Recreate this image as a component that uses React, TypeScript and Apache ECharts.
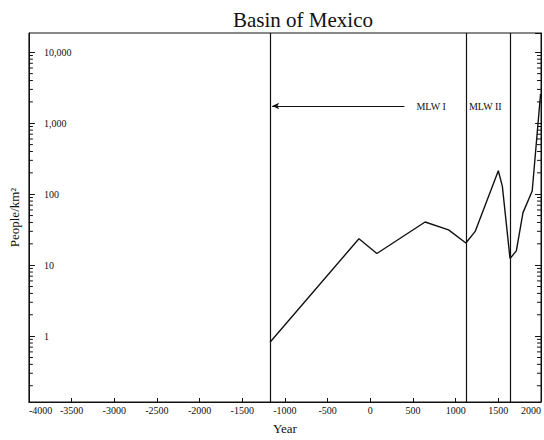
import React, { useEffect, useRef } from "react";
import * as echarts from "echarts";

// Data
const years = [-1175, -133, 77, 642, 917, 1120, 1229, 1500, 1547, 1637, 1711, 1789, 1897, 1995];
const density = [0.82, 23.6, 14.6, 40.6, 31.4, 20.5, 29.9, 214, 130, 12.4, 15.9, 55, 111, 2600];
const boundaryYears = [-1175, 1130, 1640];
const arrowFrom = [400, 1750];
const arrowTo = [-1150, 1750];
const periodLabels = ["MLW I", "MLW II"];
const periodLabelYears = [540, 1155];
const periodLabelValue = 1750;

const X_MIN = -4000;
const X_MAX = 2000;
const X_INTERVAL = 500;
const Y_MIN = 0.118;
const Y_MAX = 18700;

// log minor tick positions (2..9 x 10^k) inside the axis extent
const minorTickValues: number[] = [];
for (let k = -1; k <= 4; k++) {
  for (let m = 2; m <= 9; m++) {
    const v = m * Math.pow(10, k);
    if (v > Y_MIN && v < Y_MAX) minorTickValues.push(v);
  }
}

const FONT = "'Liberation Serif', 'DejaVu Serif', serif";

export default function App() {
  const ref = useRef<HTMLDivElement>(null);
  useEffect(() => {
    document.body.style.margin = "0";
    const chart = echarts.init(ref.current!, null, { renderer: "svg" });
    const fmt = (v: number) => {
      const r = Math.round(v);
      return r.toLocaleString("en-US");
    };
    chart.setOption({
      animation: false,
      backgroundColor: "#fff",
      title: {
        text: "Basin of Mexico",
        left: 228,
        top: 4,
        textStyle: { fontFamily: FONT, fontSize: 21, fontWeight: "normal", color: "#111" },
      },
      grid: {
        left: 27.8,
        right: 1.8,
        top: 33,
        bottom: 32.7,
        show: true,
        borderColor: "#111",
        borderWidth: 1,
        containLabel: false,
      },
      xAxis: {
        type: "value",
        min: X_MIN,
        max: X_MAX,
        interval: X_INTERVAL,
        name: "Year",
        nameLocation: "middle",
        nameGap: 20,
        nameTextStyle: { fontFamily: FONT, fontSize: 13, color: "#111" },
        axisLine: { show: true, onZero: false, lineStyle: { color: "#111" } },
        axisTick: { show: true, inside: true, length: 4, lineStyle: { color: "#111" } },
        splitLine: { show: false },
        axisLabel: {
          fontFamily: FONT,
          fontSize: 10,
          color: "#111",
          margin: 3,
          formatter: (v: number) => String(v),
          alignMinLabel: "left",
          alignMaxLabel: "right",
        },
      },
      yAxis: [
        {
          type: "log",
          min: Y_MIN,
          max: Y_MAX,
          logBase: 10,
          splitNumber: 5,
          name: "People/km²",
          nameLocation: "middle",
          nameGap: 7,
          nameTextStyle: { fontFamily: FONT, fontSize: 13, color: "#111" },
          axisLine: { show: true, onZero: false, lineStyle: { color: "#111" } },
          axisTick: { show: true, inside: true, length: 6, lineStyle: { color: "#111" } },
          splitLine: { show: false },
          axisLabel: {
            inside: true,
            margin: 15,
            fontFamily: FONT,
            fontSize: 10,
            color: "#111",
            showMinLabel: false,
            showMaxLabel: false,
            formatter: fmt,
          },
        },
        {
          type: "log",
          position: "right",
          min: Y_MIN,
          max: Y_MAX,
          logBase: 10,
          splitNumber: 5,
          axisLine: { show: true, onZero: false, lineStyle: { color: "#111" } },
          axisTick: { show: true, inside: true, length: 6, lineStyle: { color: "#111" } },
          splitLine: { show: false },
          axisLabel: { show: false },
        },
      ],
      series: [
        {
          type: "custom",
          silent: true,
          clip: false,
          data: minorTickValues.map((v) => [X_MIN, v]),
          renderItem: (params: any, api: any) => {
            const p = api.coord([X_MIN, api.value(1)]);
            const cs = params.coordSys;
            const left = cs.x;
            const right = cs.x + cs.width;
            return {
              type: "group",
              children: [
                { type: "line", shape: { x1: left, y1: p[1], x2: left + 4, y2: p[1] }, style: { stroke: "#111", lineWidth: 1 } },
                { type: "line", shape: { x1: right, y1: p[1], x2: right - 4, y2: p[1] }, style: { stroke: "#111", lineWidth: 1 } },
              ],
            };
          },
        },
        {
          type: "line",
          data: years.map((y, i) => [y, density[i]]),
          symbol: "none",
          lineStyle: { color: "#111", width: 1.4 },
          z: 5,
          markLine: {
            silent: true,
            symbol: ["none", "none"],
            label: { show: false },
            lineStyle: { color: "#111", width: 1.2, type: "solid" },
            data: [
              ...boundaryYears.map((x) => ({ xAxis: x })),
              [
                { coord: arrowFrom, symbol: "none" },
                { coord: arrowTo, symbol: "arrow", symbolSize: [5, 7] },
              ],
            ],
          },
          markPoint: {
            silent: true,
            symbol: "circle",
            symbolSize: 0,
            label: {
              show: true,
              position: "right",
              distance: 0,
              formatter: "{b}",
              fontFamily: FONT,
              fontSize: 10,
              color: "#111",
            },
            data: periodLabels.map((t, i) => ({ name: t, coord: [periodLabelYears[i], periodLabelValue] })),
          },
        },
      ],
    });
    return () => chart.dispose();
  }, []);
  return <div ref={ref} style={{ width: 544, height: 440 }} />;
}
